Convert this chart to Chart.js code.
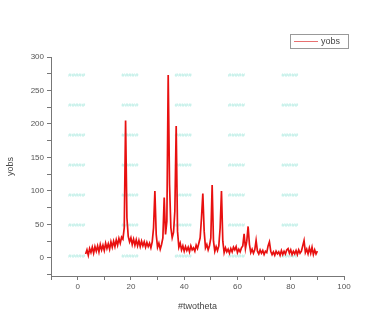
<!DOCTYPE html>
<html>
<head>
<meta charset="utf-8">
<script src="https://cdn.jsdelivr.net/npm/chart.js@4"></script>
<style>
  html, body { margin:0; padding:0; background:#fff; }
  #wrap { position:relative; width:379px; height:312px; }
</style>
</head>
<body>
<div id="wrap"><canvas id="c" width="379" height="312"></canvas></div>
<script>
// ── data ──
const twoTheta = [
   3.0, 3.5, 4.0, 4.5, 5.0, 5.5, 6.0, 6.5, 7.0, 7.5,
   8.0, 8.5, 9.0, 9.5,10.0,10.5,11.0,11.5,12.0,12.5,
  13.0,13.5,14.0,14.5,15.0,15.5,16.0,16.5,17.0,17.5,
  18.0,18.5,19.0,19.5,20.0,20.5,21.0,21.5,22.0,22.5,
  23.0,23.5,24.0,24.5,25.0,25.5,26.0,26.5,27.0,27.5,
  28.0,28.5,29.0,29.5,30.0,30.5,31.0,31.5,32.0,32.5,
  33.0,33.5,34.0,34.5,35.0,35.5,36.0,36.5,37.0,37.5,
  38.0,38.5,39.0,39.5,40.0,40.5,41.0,41.5,42.0,42.5,
  43.0,43.5,44.0,44.5,45.0,45.5,46.0,46.5,47.0,47.5,
  48.0,48.5,49.0,49.5,50.0,50.5,51.0,51.5,52.0,52.5,
  53.0,53.5,54.0,54.5,55.0,55.5,56.0,56.5,57.0,57.5,
  58.0,58.5,59.0,59.5,60.0,60.5,61.0,61.5,62.0,62.5,
  63.0,63.5,64.0,64.5,65.0,65.5,66.0,66.5,67.0,67.5,
  68.0,68.5,69.0,69.5,70.0,70.5,71.0,71.5,72.0,72.5,
  73.0,73.5,74.0,74.5,75.0,75.5,76.0,76.5,77.0,77.5,
  78.0,78.5,79.0,79.5,80.0,80.5,81.0,81.5,82.0,82.5,
  83.0,83.5,84.0,84.5,85.0,85.5,86.0,86.5,87.0,87.5,
  88.0,88.5,89.0,89.5,90.0
];
const yobs = [
    6, 12,  4, 14,  8, 16,  7, 17, 10, 18,
    9, 20, 12, 19, 11, 22, 14, 21, 13, 24,
   16, 25, 17, 27, 19, 29, 22, 31, 28, 45,
  205, 60, 32, 24, 30, 20, 28, 19, 27, 18,
   26, 17, 25, 18, 24, 16, 23, 17, 22, 15,
   24, 45,100, 35, 16, 22, 13, 20, 30, 90,
   35, 55,273,110, 45, 30, 38, 70,197, 40,
   16, 22, 12, 18, 10, 17, 11, 16,  9, 18,
   12, 15, 10, 19, 14, 22, 30, 60, 96, 40,
   15, 20, 12, 18, 30,109, 25, 10, 17, 11,
   18, 45,100, 25,  8, 15,  9, 13,  7, 14,
    9, 16, 12, 17,  8, 13,  9, 15, 18, 36,
   14, 25, 47, 20,  8, 13,  7, 12, 26, 10,
    6, 12,  7, 11,  5, 10,  8, 18, 24, 10,
    5,  9,  4, 10,  6,  9,  4, 11,  5, 10,
    6, 12, 14,  7, 12,  5, 10,  6, 11,  5,
   12,  7, 10, 18, 26,  8, 13,  6, 15,  7,
   16,  5, 12,  6, 10
];
const xTicks = [-10, 0, 10, 20, 30, 40, 50, 60, 70, 80, 90, 100];
const yTicks = [-25, 0, 25, 50, 75, 100, 125, 150, 175, 200, 225, 250, 275, 300];
// faint cyan label grid behind the data
const markX = [0, 20, 40, 60, 80];
const markY = [3, 48, 93, 138, 183, 228, 273];
const markText = '#####';

const points = twoTheta.map((x, i) => ({ x, y: yobs[i] }));

const bgMarks = {
  id: 'bgMarks',
  beforeDatasetsDraw(chart) {
    const { ctx, scales: { x, y } } = chart;
    ctx.save();
    ctx.fillStyle = '#b4ece3';
    ctx.font = '6px "Liberation Sans", Arial, sans-serif';
    ctx.textAlign = 'center';
    ctx.textBaseline = 'middle';
    markX.forEach(mx => markY.forEach(my => {
      ctx.fillText(markText, x.getPixelForValue(mx) - 1, y.getPixelForValue(my));
    }));
    ctx.restore();
  }
};

const legendBox = {
  id: 'legendBox',
  afterDraw(chart) {
    const { ctx } = chart;
    ctx.save();
    ctx.strokeStyle = '#999';
    ctx.lineWidth = 1;
    ctx.strokeRect(290.5, 34.5, 58, 14);
    ctx.strokeStyle = '#e87070';
    ctx.beginPath(); ctx.moveTo(294, 41.5); ctx.lineTo(318, 41.5); ctx.stroke();
    ctx.fillStyle = '#444';
    ctx.font = '9px "Liberation Sans", Arial, sans-serif';
    ctx.textBaseline = 'middle';
    ctx.fillText('yobs', 321, 42);
    ctx.restore();
  }
};

new Chart(document.getElementById('c'), {
  type: 'line',
  data: {
    datasets: [{
      label: 'yobs',
      data: points,
      borderColor: '#e81010',
      borderWidth: 1.7,
      pointRadius: 0,
      tension: 0,
      fill: false
    }]
  },
  options: {
    responsive: false,
    animation: false,
    layout: { padding: { left: 0, right: 35, top: 57, bottom: 0 } },
    plugins: { legend: { display: false }, tooltip: { enabled: false } },
    scales: {
      x: {
        type: 'linear', min: -10, max: 100,
        afterBuildTicks: s => { s.ticks = xTicks.map(v => ({ value: v })); },
        afterFit: s => { s.height = 36; },
        grid: { drawOnChartArea: false, drawTicks: true, tickLength: 4, color: '#777' },
        border: { color: '#777', width: 1 },
        ticks: {
          color: '#555', padding: 2, maxRotation: 0, autoSkip: false,
          font: { family: '"Liberation Sans", Arial, sans-serif', size: 8 },
          callback: v => (v % 20 === 0 && v >= 0) ? v : ''
        },
        title: {
          display: true, text: '#twotheta', color: '#444', padding: { top: 3, bottom: 0 },
          font: { family: '"Liberation Sans", Arial, sans-serif', size: 9 }
        }
      },
      y: {
        type: 'linear', min: -27, max: 300,
        afterBuildTicks: s => { s.ticks = yTicks.map(v => ({ value: v })); },
        afterFit: s => { s.width = 51; },
        grid: { drawOnChartArea: false, drawTicks: true, tickLength: 4, color: '#777' },
        border: { color: '#777', width: 1 },
        ticks: {
          color: '#555', padding: 3, autoSkip: false,
          font: { family: '"Liberation Sans", Arial, sans-serif', size: 8 },
          callback: v => (v % 50 === 0) ? v : ''
        },
        title: {
          display: true, text: 'yobs', color: '#444', padding: { top: 5, bottom: 0 },
          font: { family: '"Liberation Sans", Arial, sans-serif', size: 9 }
        }
      }
    }
  },
  plugins: [bgMarks, legendBox]
});
</script>
</body>
</html>
